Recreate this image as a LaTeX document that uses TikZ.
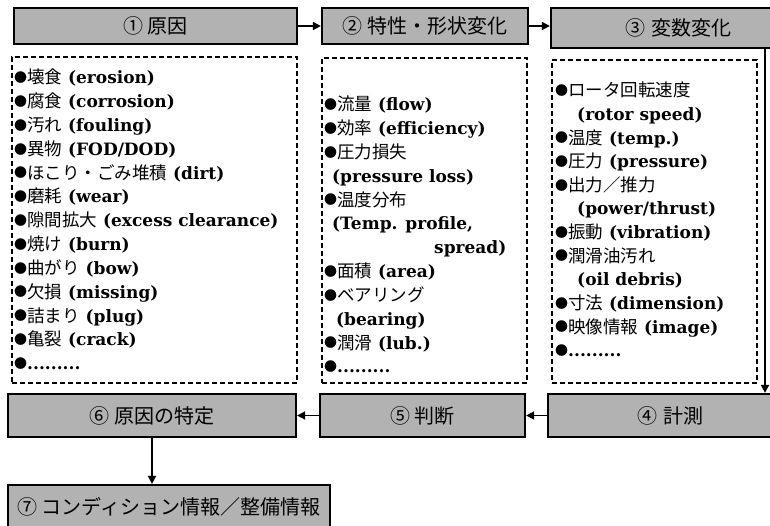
\documentclass[tikz,border=0pt]{standalone}
\usepackage{fontspec}
\setmainfont{DejaVu Serif}
\newfontfamily\jp{Noto Sans CJK JP}
\usetikzlibrary{arrows.meta}
\newcommand\jt[1]{{\jp\mdseries\fontsize{17.5}{17.5}\selectfont #1}}
\newcommand\bl{\raisebox{1.2pt}{\jp\mdseries\fontsize{13}{13}\selectfont ●}}
\newcommand\dotrow{.........}
\begin{document}
\begin{tikzpicture}[x=1pt,y=-1pt,
  stage/.style={draw=black, line width=2.2pt, fill=black!30, inner sep=0pt,
    font=\jp\fontsize{20}{20}\selectfont},
  listbox/.style={draw=black, line width=1.3pt, dash pattern=on 5pt off 3pt, inner sep=0pt},
  item/.style={anchor=base west, inner sep=0pt, font=\fontsize{17}{17}\selectfont\bfseries},
  flow/.style={line width=1.6pt, -{Triangle[length=8pt,width=8pt]}}]
\useasboundingbox (0,0) rectangle (770,526);
\clip (0,0) rectangle (770,526);
% stage boxes
\node[stage, minimum width=283pt, minimum height=36pt] (s1) at (155.5,26) {① 原因};
\node[stage, minimum width=206pt, minimum height=36pt] (s2) at (425,26) {② 特性・形状変化};
\node[stage, minimum width=240pt, minimum height=40pt, text width=200pt, align=left] (s3) at (671,28) {\hspace{54pt}③ 変数変化};
\node[stage, minimum width=242pt, minimum height=43pt, text width=220pt, align=left] (s4) at (669,415.5) {\hspace{78pt}④ 計測};
\node[stage, minimum width=205pt, minimum height=43pt] (s5) at (422.5,415.5) {⑤ 判断};
\node[stage, minimum width=288pt, minimum height=43pt] (s6) at (152,415.5) {⑥ 原因の特定};
\node[stage, minimum width=322pt, minimum height=44pt] (s7) at (169,507) {⑦ コンディション情報／整備情報};
% list boxes
\node[listbox, minimum width=285pt, minimum height=326pt] (d1) at (154.5,220) {};
\node[listbox, minimum width=205pt, minimum height=325pt] (d2) at (424.5,220.5) {};
\node[listbox, minimum width=205pt, minimum height=323pt] (d3) at (654.5,221.5) {};
% list 1
\foreach \t [count=\i from 0] in {
  {\bl\jt{壊食} (erosion)},
  {\bl\jt{腐食} (corrosion)},
  {\bl\jt{汚れ} (fouling)},
  {\bl\jt{異物} (FOD/DOD)},
  {\bl\jt{ほこり・ごみ堆積} (dirt)},
  {\bl\jt{磨耗} (wear)},
  {\bl\jt{隙間拡大} (excess clearance)},
  {\bl\jt{焼け} (burn)},
  {\bl\jt{曲がり} (bow)},
  {\bl\jt{欠損} (missing)},
  {\bl\jt{詰まり} (plug)},
  {\bl\jt{亀裂} (crack)},
  {\bl\dotrow}}
  \node[item] (a\i) at (14,84+23.8*\i) {\t};
% list 2
\foreach \t [count=\i from 0] in {
  {\bl\jt{流量} (flow)},
  {\bl\jt{効率} (efficiency)},
  {\bl\jt{圧力損失}},
  {\hspace{8pt}(pressure loss)},
  {\bl\jt{温度分布}},
  {\hspace{8pt}(Temp. profile,},
  {\hspace{110pt}spread)},
  {\bl\jt{面積} (area)},
  {\bl\jt{ベアリング}},
  {\hspace{12pt}(bearing)},
  {\bl\jt{潤滑} (lub.)},
  {\bl\dotrow}}
  \node[item] (b\i) at (324,111+23.8*\i) {\t};
% list 3
\foreach \t [count=\i from 0] in {
  {\bl\jt{ロータ回転速度}},
  {\hspace{22pt}(rotor speed)},
  {\bl\jt{温度} (temp.)},
  {\bl\jt{圧力} (pressure)},
  {\bl\jt{出力／推力}},
  {\hspace{22pt}(power/thrust)},
  {\bl\jt{振動} (vibration)},
  {\bl\jt{潤滑油汚れ}},
  {\hspace{22pt}(oil debris)},
  {\bl\jt{寸法} (dimension)},
  {\bl\jt{映像情報} (image)},
  {\bl\dotrow}}
  \node[item] (c\i) at (555,97+23.6*\i) {\t};
% connectors
\coordinate (rx) at (765,0);
\draw[flow] (s1.east) -- (s2.west);
\draw[flow] (s2.east) -- (s2.east -| s3.west);
\draw[flow] (s3.south -| rx) -- (s4.north -| rx);
\draw[flow] (s4.west) -- (s5.east);
\draw[flow] (s5.west) -- (s6.east);
\draw[flow] (s6.south) -- (s6.south |- s7.north);
\end{tikzpicture}
\end{document}
